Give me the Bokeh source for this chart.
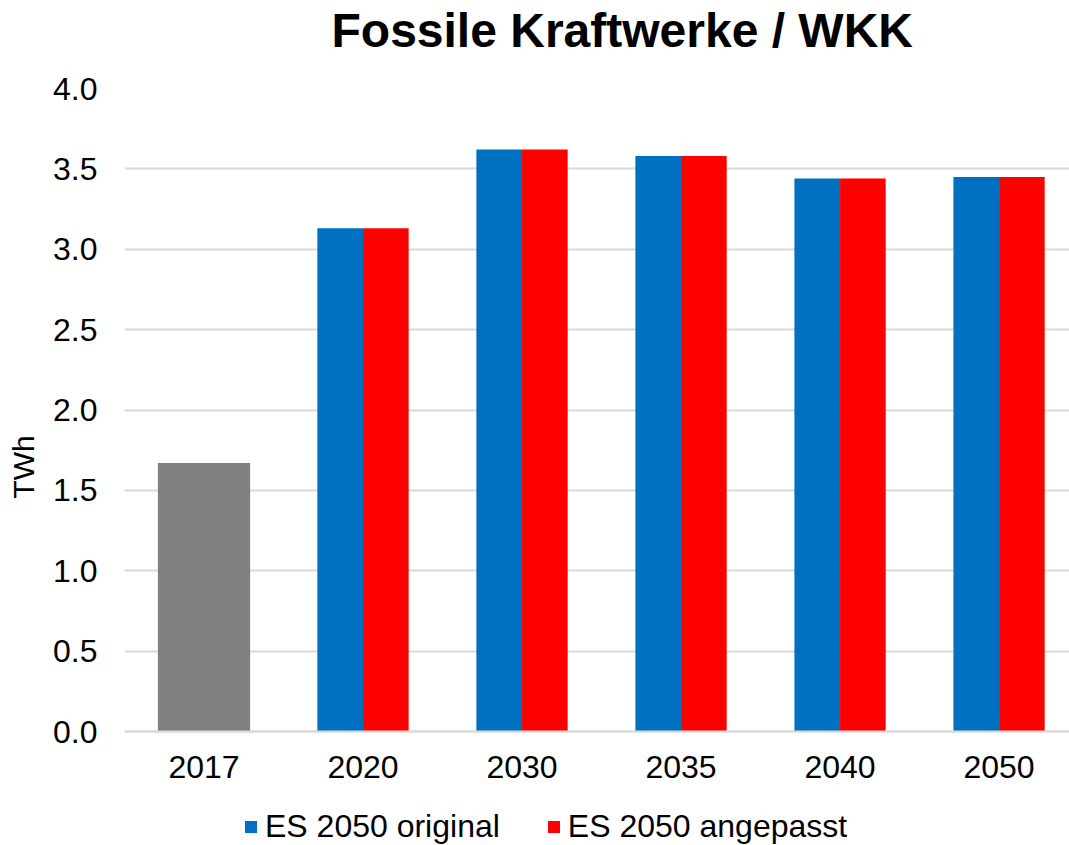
from bokeh.plotting import figure
from bokeh.models import ColumnDataSource, Range1d, Legend, LegendItem, FixedTicker, Title
from bokeh.embed import file_html
from bokeh.resources import INLINE

# Data (TWh)
years = ["2017", "2020", "2030", "2035", "2040", "2050"]
actual_2017 = [1.67]
es2050_original = [3.13, 3.62, 3.58, 3.44, 3.45]
es2050_angepasst = [3.13, 3.62, 3.58, 3.44, 3.45]
y_ticks = [0.0, 0.5, 1.0, 1.5, 2.0, 2.5, 3.0, 3.5, 4.0]

FONT = "Liberation Sans"
BLUE = "#0070C0"
RED = "#FF0000"
GREY = "#808080"
GRID = "#D9D9D9"

x_pos = list(range(len(years)))

# the frame runs to the bottom edge so the legend can sit under the axis;
# the category axis itself is pinned at y = 0
p = figure(
    width=1069, height=845,
    x_range=Range1d(-0.5, 5.443), y_range=Range1d(-0.709, 4.0),
    output_backend="svg", toolbar_location=None,
    min_border_left=124, min_border_right=0,
    min_border_top=88, min_border_bottom=0,
)
p.title = Title(text="Fossile Kraftwerke / WKK", text_font=FONT,
                text_font_size="48px", text_font_style="bold",
                text_color="black", align="left", offset=207, standoff=0,
                padding=dict(left=0, right=0, top=0, bottom=32))

src_2017 = ColumnDataSource(dict(x=[x_pos[0]], top=actual_2017))
src_orig = ColumnDataSource(dict(x=[x - 0.1435 for x in x_pos[1:]], top=es2050_original))
src_adj = ColumnDataSource(dict(x=[x + 0.1435 for x in x_pos[1:]], top=es2050_angepasst))

p.vbar(x="x", top="top", width=0.58, source=src_2017, color=GREY, line_color=None)
r_orig = p.vbar(x="x", top="top", width=0.287, source=src_orig, color=BLUE, line_color=None)
r_adj = p.vbar(x="x", top="top", width=0.287, source=src_adj, color=RED, line_color=None)

# axes
p.xaxis.fixed_location = 0
p.xaxis.ticker = FixedTicker(ticks=x_pos)
p.xaxis.major_label_overrides = {i: y for i, y in enumerate(years)}
p.xaxis.major_tick_line_color = None
p.xaxis.minor_tick_line_color = None
p.xaxis.axis_line_color = GRID
p.xaxis.axis_line_width = 2
p.xaxis.major_label_text_font = FONT
p.xaxis.major_label_text_font_size = "32px"
p.xaxis.major_label_text_color = "black"
p.xaxis.major_label_standoff = 18

p.yaxis.ticker = FixedTicker(ticks=y_ticks)
p.yaxis.major_label_overrides = {t: f"{t:.1f}" for t in y_ticks}
p.yaxis.major_tick_line_color = None
p.yaxis.minor_tick_line_color = None
p.yaxis.axis_line_color = None
p.yaxis.major_label_text_font = FONT
p.yaxis.major_label_text_font_size = "32px"
p.yaxis.major_label_text_color = "black"
p.yaxis.major_label_standoff = 21
p.yaxis.axis_label = "TWh"
p.yaxis.axis_label_text_font = FONT
p.yaxis.axis_label_text_font_size = "30px"
p.yaxis.axis_label_text_font_style = "normal"
p.yaxis.axis_label_text_color = "black"
p.yaxis.axis_label_standoff = 10

p.xgrid.grid_line_color = None
p.ygrid.ticker = FixedTicker(ticks=y_ticks)
p.ygrid.grid_line_color = GRID
p.ygrid.grid_line_width = 2
p.outline_line_color = None

legend = Legend(
    items=[LegendItem(label="ES 2050 original", renderers=[r_orig]),
           LegendItem(label="ES 2050 angepasst", renderers=[r_adj])],
    orientation="horizontal", location=(119, 0),
    glyph_width=15, glyph_height=15, label_standoff=7, spacing=46,
    label_text_font=FONT, label_text_font_size="32px", label_text_color="black",
    padding=0, margin=0, border_line_color=None, background_fill_alpha=0,
)
p.add_layout(legend, "center")

open("out.html", "w").write(file_html(p, INLINE))
